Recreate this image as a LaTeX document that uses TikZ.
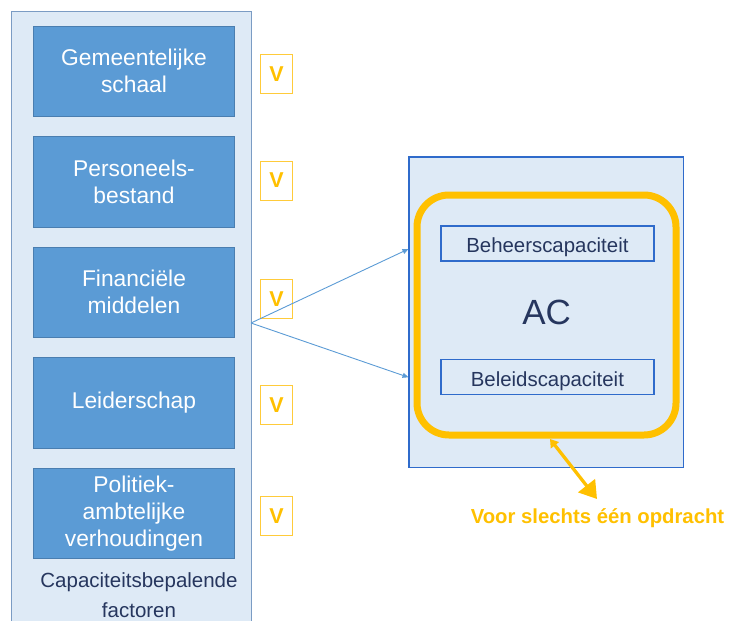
\documentclass[tikz,border=0pt]{standalone}
\usepackage{fontspec}
\setmainfont{Liberation Sans}
\usetikzlibrary{arrows.meta}
\definecolor{panelfill}{HTML}{DEEAF6}
\definecolor{paneledge}{HTML}{7B9CC4}
\definecolor{boxfill}{HTML}{5B9BD5}
\definecolor{boxedge}{HTML}{4A7EB0}
\definecolor{acedge}{HTML}{2F6BCB}
\definecolor{gold}{HTML}{FFC000}
\definecolor{goldedge}{HTML}{FFCB3A}
\definecolor{navy}{HTML}{26365E}
\begin{document}
\begin{tikzpicture}[x=1pt,y=-1pt,
  factor/.style={draw=boxedge,line width=0.8pt,fill=boxfill,minimum width=201pt,minimum height=90.5pt,
    align=center,text=white,font=\fontsize{22.8}{27}\selectfont,inner sep=0pt},
  vmark/.style={draw=goldedge,line width=0.9pt,fill=white,minimum width=31.6pt,minimum height=39pt,
    inner sep=0pt,text=gold,font=\fontsize{21.5}{24}\selectfont\bfseries},
  capbox/.style={draw=acedge,line width=1.2pt,fill=panelfill,minimum width=213pt,minimum height=35pt,
    inner sep=0pt,text height=22pt,text depth=4.3pt,text=navy,font=\fontsize{20.4}{24}\selectfont},
  feed/.style={draw=boxfill,line width=0.9pt,-{Triangle[width=5pt,length=6pt]}}]
\useasboundingbox (0,0) rectangle (731,621);
\clip (0,0) rectangle (731,621);

% container of the determining factors
\node[draw=paneledge,line width=1pt,fill=panelfill,minimum width=240.2pt,minimum height=640pt,inner sep=0pt,anchor=north west]
  (panel) at (10.5,10.5) {};

\node[factor] (f1) at (134,71.3) {Gemeentelijke\\schaal};
\node[factor] (f2) at (134,182) {Personeels-\\bestand};
\node[factor] (f3) at (134,292.2) {Financiële\\middelen};
\node[factor] (f4) at (134,403) {Leiderschap};
\node[factor] (f5) at (134,513.3) {Politiek-\\ambtelijke\\verhoudingen};

\node[text=navy,align=center,font=\fontsize{20.5}{30}\selectfont] (cap) at (139,595)
  {Capaciteitsbepalende\\factoren};

% check marks
\node[vmark] (v1) at (276.5,73.8) {V};
\node[vmark] (v2) at (276.5,180.5) {V};
\node[vmark] (v3) at (276.5,298.8) {V};
\node[vmark] (v4) at (276.5,405) {V};
\node[vmark] (v5) at (276.5,516.2) {V};

% administrative capacity
\node[draw=acedge,line width=1.6pt,fill=panelfill,minimum width=274.3pt,minimum height=310.6pt,inner sep=0pt]
  (ac) at (546.2,312) {};
\node[draw=gold,line width=7pt,rounded corners=32pt,minimum width=259pt,minimum height=240pt,inner sep=0pt]
  (ring) at (546.5,315) {};
\node[capbox] (beheer) at (547.4,243.5) {Beheerscapaciteit};
\node[capbox] (beleid) at (547.4,377.2) {Beleidscapaciteit};
\node[text=navy,font=\fontsize{35}{38}\selectfont] (acl) at (546.7,312.5) {AC};

% factors feeding the capacity
\coordinate (src) at (251,323);
\coordinate (in1) at (408.5,249);
\coordinate (in2) at (408.5,377.3);
\draw[feed] (src) -- (in1);
\draw[feed] (src) -- (in2);

% single assignment note
\coordinate (ringfoot) at (550,439);
\coordinate (notetip) at (597,499);
\draw[gold,line width=3.3pt,{Triangle[width=10pt,length=8pt]}-{Triangle[width=21pt,length=17pt]}]
  (ringfoot) -- (notetip);
\node[text=gold,font=\fontsize{20.3}{24}\selectfont\bfseries] (note) at (597.5,518.5)
  {Voor slechts één opdracht};
\end{tikzpicture}
\end{document}
